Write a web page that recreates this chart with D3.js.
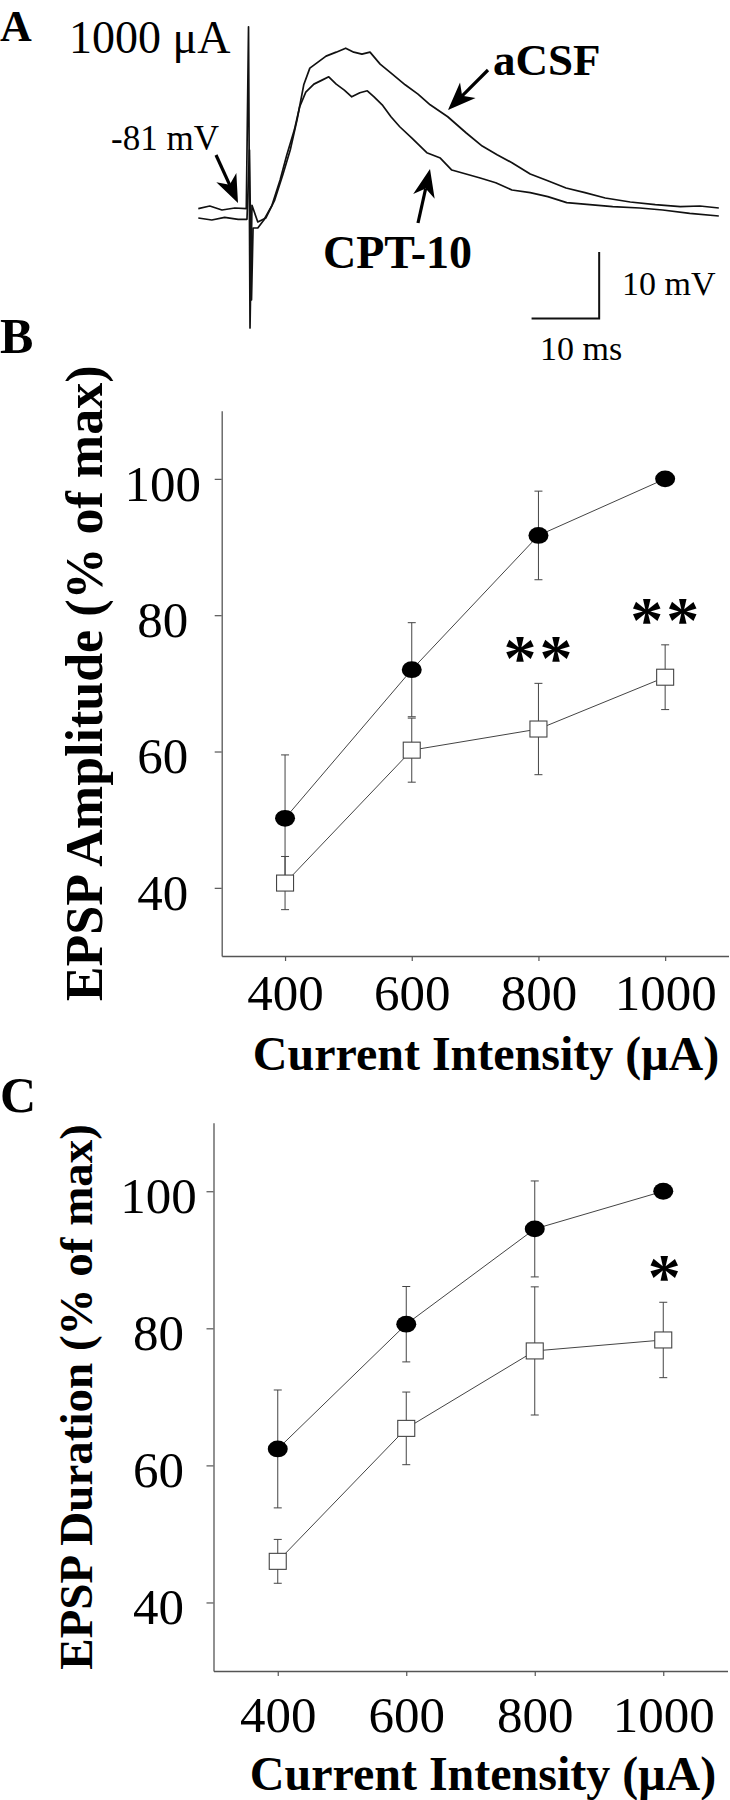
<!DOCTYPE html>
<html><head><meta charset="utf-8">
<script src="https://cdn.jsdelivr.net/npm/d3@7"></script>
<style>body{margin:0;background:#fff}svg{display:block}</style>
</head><body>
<svg id="c" width="730" height="1800"></svg>
<script>
// ---------- DATA ----------
const intensities = [400, 600, 800, 1000];
const xTicks = [400, 600, 800, 1000];
const yTicks = [40, 60, 80, 100];
const xDomain = [300, 1100];
const yDomain = [30, 110];

const ampACSF    = [50.2, 72.0, 91.7, 100];
const ampACSFErr = [9.3, 6.9, 6.5, 0];
const ampCPT     = [40.7, 60.2, 63.3, 70.9];
const ampCPTErr  = [3.9, 4.7, 6.7, 4.75];
const ampSig     = ["", "", "**", "**"];

const durACSF    = [62.4, 80.6, 94.5, 100];
const durACSFErr = [8.6, 5.5, 7.0, 0];
const durCPT     = [46.0, 65.4, 76.7, 78.3];
const durCPTErr  = [3.2, 5.3, 9.35, 5.5];
const durSig     = ["", "", "", "*"];

// Panel A traces: time (ms, 0 = stimulus) and membrane potential (mV)
const acsfTime = [-7.5,-5.8,-4.0,-2.1,-0.4,-0.07,0.15,0.44,1.3,2.5,3.8,5.0,6.1,7.1,8.1,9.0,10.2,11.4,12.9,14.3,15.5,16.7,17.9,19.4,21.2,23.1,25.0,26.8,29.4,32.1,34.5,36.7,38.9,41.6,44.2,46.9,49.7,52.7,56.4,60.1,63.8,66.7,69.5];
const acsfMV   = [-80.5,-80.1,-80.7,-80.4,-80.5,-53.2,-98.4,-80.0,-82.5,-81.9,-79.2,-75.4,-71.7,-67.2,-61.9,-59.4,-58.5,-57.6,-57.0,-56.4,-57.0,-57.3,-57.0,-58.8,-60.3,-61.9,-63.3,-64.9,-66.7,-69.1,-71.1,-72.4,-73.6,-75.3,-76.3,-77.4,-78.1,-78.9,-79.5,-79.9,-80.2,-80.1,-80.4];
const cptTime  = [-7.5,-5.5,-3.6,-1.6,-0.3,0.07,0.37,0.6,1.3,2.2,3.4,4.6,5.6,6.7,7.5,8.4,9.6,10.8,11.8,12.9,14.1,15.2,16.4,17.5,18.5,19.7,21.0,22.3,24.1,26.3,28.3,30.0,32.1,34.2,36.5,38.9,41.6,44.2,47.0,50.4,53.8,57.8,61.2,65.2,69.5];
const cptMV    = [-81.9,-82.2,-81.8,-82.1,-82.1,-71.7,-94.2,-83.4,-83.4,-82.2,-80.0,-76.2,-72.4,-68.7,-65.2,-63.0,-61.8,-61.2,-60.7,-61.8,-62.7,-63.7,-63.1,-62.8,-63.7,-64.9,-66.7,-68.2,-69.9,-72.1,-72.9,-74.7,-75.3,-75.9,-76.6,-77.7,-78.1,-78.7,-79.6,-79.9,-80.2,-80.4,-80.7,-81.2,-81.6];
const scaleBarMs = 10, scaleBarMV = 10;

// ---------- DRAWING ----------
const FONT = '"Liberation Serif","Times New Roman",Times,serif';
const svg = d3.select('#c');
const AX = '#555';

function txt(x, y, s, size, bold, anchor) {
  return svg.append('text').attr('x', x).attr('y', y).text(s)
    .attr('font-family', FONT).attr('font-size', size)
    .attr('font-weight', bold ? 'bold' : 'normal')
    .attr('text-anchor', anchor || 'start').attr('fill', '#000');
}

// ----- Panel A -----
const tx = d3.scaleLinear().domain([0, 10]).range([249, 249 + 67.6]);
const vy = d3.scaleLinear().domain([-81, -71]).range([212, 212 - 66.6]);
const tline = d3.line().x(d => tx(d[0])).y(d => vy(d[1]));
const acsfPts = acsfTime.map((t, i) => [t, acsfMV[i]]);
const cptPts = cptTime.map((t, i) => [t, cptMV[i]]);
svg.append('path').attr('d', tline(cptPts)).attr('fill', 'none').attr('stroke', '#111').attr('stroke-width', 1.7).attr('stroke-linejoin', 'round');
svg.append('path').attr('d', tline(acsfPts)).attr('fill', 'none').attr('stroke', '#111').attr('stroke-width', 1.7).attr('stroke-linejoin', 'round');

// scale bars (10 ms, 10 mV)
const sbT = 51.8, sbV = -97;
svg.append('path')
  .attr('d', `M${tx(sbT - scaleBarMs)},${vy(sbV)}H${tx(sbT)}V${vy(sbV + scaleBarMV)}`)
  .attr('fill', 'none').attr('stroke', '#111').attr('stroke-width', 2);

function arrow(x1, y1, x2, y2) {
  const dx = x2 - x1, dy = y2 - y1, L = Math.hypot(dx, dy);
  const ux = dx / L, uy = dy / L, px = -uy, py = ux;
  const hl = 28, hw = 11, notch = 8;
  const bx = x2 - ux * hl, by = y2 - uy * hl;
  const nx = x2 - ux * (hl - notch), ny = y2 - uy * (hl - notch);
  svg.append('line').attr('x1', x1).attr('y1', y1).attr('x2', nx).attr('y2', ny)
    .attr('stroke', '#000').attr('stroke-width', 3.2);
  svg.append('path').attr('d',
    `M${x2},${y2}L${bx + px * hw},${by + py * hw}L${nx},${ny}L${bx - px * hw},${by - py * hw}Z`)
    .attr('fill', '#000');
}
arrow(216, 155, 238, 203);
arrow(488, 70, 448, 110);
arrow(418, 223, 430, 169);

txt(0, 41, 'A', 44, true);
txt(69, 53, '1000 μA', 46, false);
txt(111, 150, '-81 mV', 35, false);
txt(493, 75, 'aCSF', 45, true);
txt(323, 268, 'CPT-10', 46, true);
txt(622, 295, '10 mV', 34, false);
txt(540, 360, '10 ms', 34, false);

// ----- Panels B & C -----
function panel(cfg) {
  const x = d3.scaleLinear().domain(xDomain).range([cfg.left, cfg.right]);
  const y = d3.scaleLinear().domain(yDomain).range([cfg.bottom, cfg.top]);
  const g = svg.append('g');

  const ya = g.append('g').attr('transform', `translate(${cfg.left},0)`)
    .call(d3.axisLeft(y).tickValues(yTicks).tickSize(7).tickSizeOuter(0).tickFormat(d3.format('d')));
  const xa = g.append('g').attr('transform', `translate(0,${cfg.bottom})`)
    .call(d3.axisBottom(x).tickValues(xTicks).tickSize(5).tickSizeOuter(0).tickFormat(d3.format('d')));
  [ya, xa].forEach(a => {
    a.attr('font-family', FONT).attr('font-size', 51);
    a.select('.domain').attr('stroke', AX).attr('stroke-width', 1.3);
    a.selectAll('.tick line').attr('stroke', AX).attr('stroke-width', 1.2);
    a.selectAll('.tick text').attr('fill', '#000');
  });
  ya.selectAll('.tick text').attr('x', -cfg.yLabOff).attr('text-anchor', 'middle').attr('dy', '0.42em');
  xa.selectAll('.tick text').attr('y', cfg.xLabY).attr('dy', 0);

  const line = d3.line().x((d, i) => x(intensities[i])).y(d => y(d));
  [cfg.cpt, cfg.acsf].forEach(s => {
    g.append('path').attr('d', line(s)).attr('fill', 'none').attr('stroke', '#444').attr('stroke-width', 1);
  });
  [[cfg.acsf, cfg.acsfErr], [cfg.cpt, cfg.cptErr]].forEach(([m, e]) => {
    m.forEach((v, i) => {
      if (!e[i]) return;
      const cx = x(intensities[i]);
      g.append('path')
        .attr('d', `M${cx},${y(v - e[i])}V${y(v + e[i])}M${cx - 4},${y(v - e[i])}H${cx + 4}M${cx - 4},${y(v + e[i])}H${cx + 4}`)
        .attr('stroke', '#444').attr('stroke-width', 1).attr('fill', 'none');
    });
  });
  g.selectAll('ellipse.a').data(cfg.acsf).join('ellipse')
    .attr('cx', (d, i) => x(intensities[i])).attr('cy', d => y(d))
    .attr('rx', 10).attr('ry', 8.4).attr('fill', '#000');
  g.selectAll('rect.c').data(cfg.cpt).join('rect')
    .attr('x', (d, i) => x(intensities[i]) - 8.5).attr('y', d => y(d) - 8)
    .attr('width', 17).attr('height', 16).attr('fill', '#fff').attr('stroke', '#444').attr('stroke-width', 1.1);

  cfg.sig.forEach((s, i) => {
    if (!s) return;
    g.append('text').attr('x', x(intensities[i]) + 1).attr('y', y(cfg.cpt[i] + cfg.cptErr[i]) - 3)
      .attr('text-anchor', 'middle').attr('font-family', FONT).attr('font-weight', 'bold')
      .attr('font-size', 66).attr('letter-spacing', s.length > 1 ? 3 : 0).text(s);
  });

  txt(cfg.xTitleX, cfg.xTitleY, 'Current Intensity (μA)', 48, true, 'middle');
  svg.append('text').attr('transform', `translate(${cfg.yTitleX},${(cfg.top + cfg.bottom) / 2}) rotate(-90)`)
    .attr('text-anchor', 'middle').attr('font-family', FONT).attr('font-weight', 'bold')
    .attr('font-size', cfg.yTitleSize).text(cfg.yTitle);
  txt(0, cfg.letterY, cfg.letter, 50, true);
}

panel({
  left: 221.7, right: 728.5, top: 410.7, bottom: 956,
  yLabOff: 59, xLabY: 54,
  acsf: ampACSF, acsfErr: ampACSFErr, cpt: ampCPT, cptErr: ampCPTErr, sig: ampSig,
  xTitleX: 486, xTitleY: 1070, yTitleX: 102, yTitleSize: 52,
  yTitle: 'EPSP Amplitude (% of max)', letter: 'B', letterY: 353
});
panel({
  left: 213.5, right: 727.5, top: 1122.7, bottom: 1671,
  yLabOff: 55, xLabY: 60.7,
  acsf: durACSF, acsfErr: durACSFErr, cpt: durCPT, cptErr: durCPTErr, sig: durSig,
  xTitleX: 483, xTitleY: 1790, yTitleX: 92, yTitleSize: 47,
  yTitle: 'EPSP Duration (% of max)', letter: 'C', letterY: 1112
});
</script>
</body></html>
